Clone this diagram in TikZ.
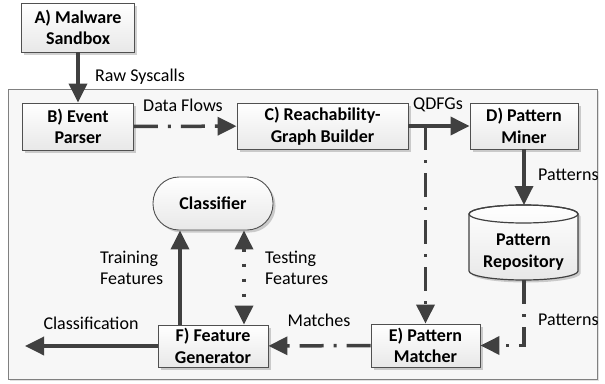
\documentclass[tikz,border=0pt]{standalone}
\usepackage{fontspec}
\setmainfont{Carlito}
\usetikzlibrary{arrows.meta,shadows}
\definecolor{ln}{HTML}{404040}
\definecolor{bd}{HTML}{505050}
\definecolor{bg}{HTML}{F7F7F7}
\definecolor{frame}{HTML}{808080}
\newcommand{\bigfont}{\fontsize{18}{21.5}\selectfont}
\tikzset{
  box/.style={draw=bd, line width=0.9pt, top color=white, bottom color=gray!18,
    font=\bigfont\bfseries, align=center, inner sep=0pt,
    drop shadow={shadow xshift=2.5pt, shadow yshift=-2.5pt, fill=black, opacity=0.18}},
  arr/.style={draw=ln, line width=3.5pt, -{Triangle[length=19pt,width=18pt]}},
  arrboth/.style={draw=ln, line width=3.5pt, {Triangle[length=19pt,width=18pt]}-{Triangle[length=19pt,width=18pt]}},
  dashdot/.style={dash pattern=on 24pt off 10pt on 3pt off 10pt},
  dotline/.style={dash pattern=on 3pt off 12pt},
  lbl/.style={font=\bigfont, align=left, inner sep=0pt}
}
\begin{document}
\begin{tikzpicture}[x=1pt,y=-1pt, font=\bigfont]
\useasboundingbox (0,0) rectangle (605,383);
\fill[white] (0,0) rectangle (605,383);
% outer frame
\fill[black, opacity=0.12] (10,91) rectangle (599,381);
\filldraw[fill=bg, draw=frame, line width=0.9pt] (8,89) rectangle (597,379);

% nodes
\node[box, minimum width=113pt, minimum height=49pt] (A) at (78,27.5) {A) Malware\\Sandbox};
\node[box, minimum width=111pt, minimum height=47pt] (B) at (78,126.5) {B) Event\\Parser};
\node[box, minimum width=171pt, minimum height=46pt] (C) at (322.5,126) {C) Reachability-\\Graph Builder};
\node[box, minimum width=108pt, minimum height=46pt] (D) at (524,126) {D) Pattern\\Miner};
\node[box, minimum width=109pt, minimum height=43pt] (E) at (425.5,345.5) {E) Pattern\\Matcher};
\node[box, minimum width=110pt, minimum height=42pt] (F) at (213,346) {F) Feature\\Generator};
\node[box, minimum width=120pt, minimum height=53pt, rounded corners=26pt] (K) at (213,203.5) {Classifier};

% cylinder (pattern repository)
\path[draw=ln, line width=1.2pt, top color=white, bottom color=gray!18,
  drop shadow={shadow xshift=2.5pt, shadow yshift=-2.5pt, fill=black, opacity=0.18}]
  (469,214) -- (469,271) arc[start angle=180, end angle=360, x radius=54.5pt, y radius=9pt]
  -- (578,214) arc[start angle=0, end angle=180, x radius=54.5pt, y radius=9pt] -- cycle;
\draw[draw=ln, line width=1.2pt] (523.5,214) ellipse [x radius=54.5pt, y radius=9pt];
\node[font=\bigfont\bfseries, align=center, inner sep=0pt] (R) at (523.5,252) {Pattern\\Repository};
\coordinate (Rtop) at (524,205);
\coordinate (Rbot) at (524,280);

% connectors
\draw[arr] (A) -- (B);
\node[lbl, anchor=west] (lraw) at (95,77) {Raw Syscalls};

\draw[arr, dashdot] (B) -- (C);
\node[lbl] (ldf) at (183,105) {Data Flows};

\draw[arr] (C) -- (D);
\node[lbl] (lq) at (438,105) {QDFGs};

\coordinate (q) at (425.5,126);
\draw[arr, dashdot] (q) -- (E.north);

\draw[arr] (D.south -| Rtop) -- (Rtop);
\node[lbl, anchor=west] (lp1) at (538,175) {Patterns};

\draw[arr, dashdot] (Rbot) |- (E.east);
\node[lbl, anchor=west] (lp2) at (538,320) {Patterns};

\draw[arr, dashdot] (E) -- (F);
\node[lbl] (lm) at (319,320) {Matches};

\coordinate (cl) at (25,346);
\draw[arr] (F) -- (cl);
\node[lbl] (lc) at (91,323) {Classification};

\draw[arr] ([xshift=-33pt]F.north) -- ([xshift=-33pt]K.south);
\node[lbl, anchor=west] (ltr) at (100,268) {Training\\Features};

\draw[arrboth, dotline] ([xshift=31pt]K.south) -- ([xshift=31pt]F.north);
\node[lbl, anchor=west] (lte) at (265,268) {Testing\\Features};
\end{tikzpicture}
\end{document}
